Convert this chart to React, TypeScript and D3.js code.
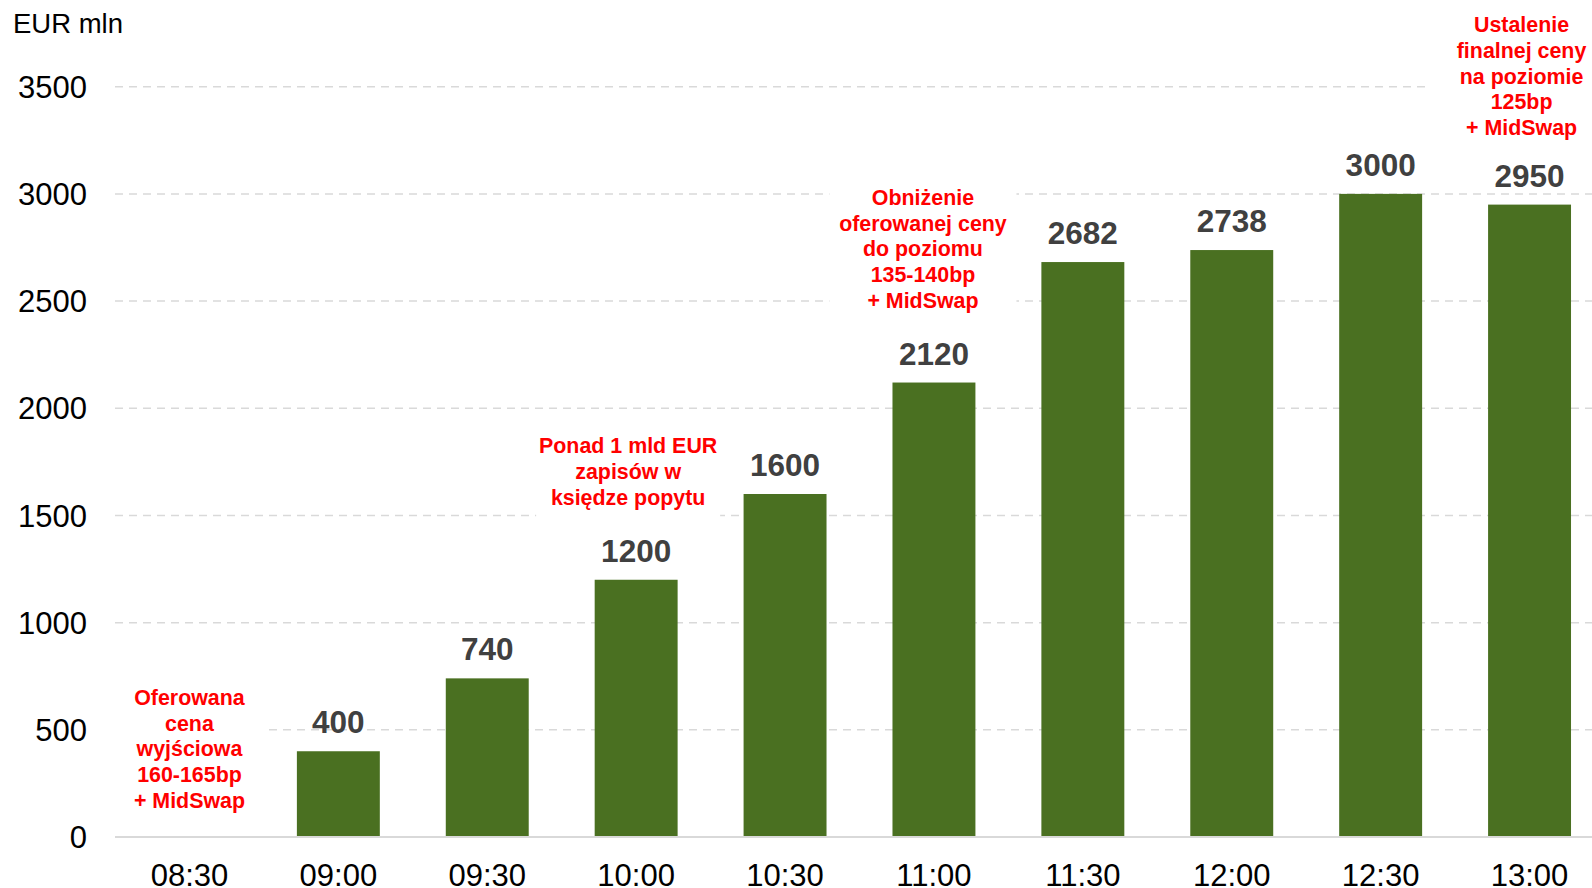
import React from "react";
import * as d3 from "d3";

const categories = ["08:30", "09:00", "09:30", "10:00", "10:30", "11:00", "11:30", "12:00", "12:30", "13:00"];
const values: (number | null)[] = [null, 400, 740, 1200, 1600, 2120, 2682, 2738, 3000, 2950];
const yTicks = [0, 500, 1000, 1500, 2000, 2500, 3000, 3500];
const yLabel = "EUR mln";

const annotationCategories = ["08:30", "10:00", "11:00", "13:00"];
const annotationLines = [
  ["Oferowana", "cena", "wyjściowa", "160-165bp", "+ MidSwap"],
  ["Ponad 1 mld EUR", "zapisów w", "księdze popytu"],
  ["Obniżenie", "oferowanej ceny", "do poziomu", "135-140bp", "+ MidSwap"],
  ["Ustalenie", "finalnej ceny", "na poziomie", "125bp", "+ MidSwap"],
];
// value at which the first line's baseline sits
const annotationAnchorValues = [616, 1790, 2948, 3754];

// style constants
const W = 1592;
const H = 888;
const boxWidths = [152, 184, 187, 188];
const annShiftX = [0, -8, -11, -8];
const FONT = "'Liberation Sans', Arial, sans-serif";

export default function App() {
  const x0 = 115;
  const x1 = 1604;
  const x = d3.scaleBand<string>().domain(categories).range([x0, x1]).paddingInner(0.443).paddingOuter(0.2215);
  const xc = (c: string) => (x(c) as number) + x.bandwidth() / 2;
  const bw = x.bandwidth();
  const y = d3.scaleLinear().domain([0, 3500]).range([837, 86.7]);
  const lh = 25.7;

  return (
    <svg width={W} height={H} style={{ position: "absolute", left: 0, top: 0, background: "#fff" }} fontFamily={FONT}>
      <text x={13} y={33} fontSize={27.5} fill="#000">{yLabel}</text>
      {yTicks.map((t) => (
        <g key={t}>
          {t > 0 && (
            <line x1={x0} x2={W} y1={y(t)} y2={y(t)} stroke="#d9d9d9" strokeWidth={1.5} strokeDasharray="8,6" />
          )}
          <text x={87} y={y(t)} dy="0.36em" textAnchor="end" fontSize={31} fill="#000">{t}</text>
        </g>
      ))}
      {categories.map((c, i) => {
        const v = values[i];
        return (
          <g key={c}>
            {v != null && (
              <>
                <rect x={xc(c) - bw / 2} y={y(v)} width={bw} height={y(0) - y(v)} fill="#4a7021" />
                <text x={xc(c)} y={y(v) - 18} textAnchor="middle" fontSize={31.5} fontWeight="bold" fill="#404040">{v}</text>
              </>
            )}
            <text x={xc(c)} y={885.5} textAnchor="middle" fontSize={31} fill="#000">{c}</text>
          </g>
        );
      })}
      {annotationCategories.map((c, i) => {
        const lines = annotationLines[i];
        const cx = xc(c) + annShiftX[i];
        const firstBase = y(annotationAnchorValues[i]);
        const top = firstBase - 21;
        const bh = (lines.length - 1) * lh + 21 + 15;
        return (
          <g key={i}>
            <rect x={cx - boxWidths[i] / 2} y={top} width={boxWidths[i]} height={bh} fill="#fff" />
            {lines.map((l, j) => (
              <text key={j} x={cx} y={firstBase + j * lh} textAnchor="middle" fontSize={21.4} fontWeight="bold" fill="#ff0000">{l}</text>
            ))}
          </g>
        );
      })}
      <line x1={x0} x2={W} y1={y(0)} y2={y(0)} stroke="#d9d9d9" strokeWidth={2} />
    </svg>
  );
}
